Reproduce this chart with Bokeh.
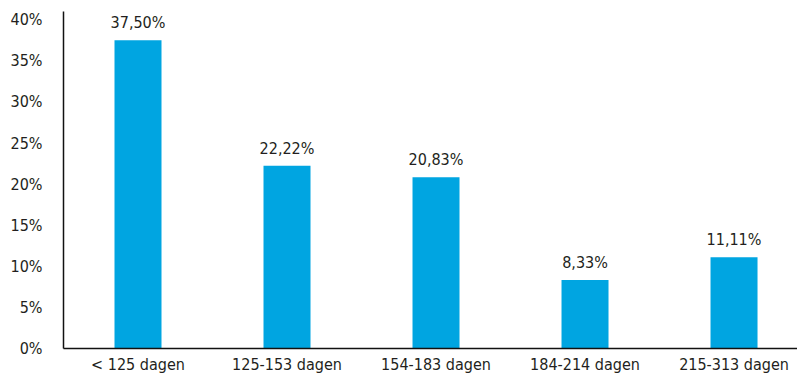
from bokeh.plotting import figure
from bokeh.models import Range1d, ColumnDataSource, FixedTicker, LabelSet
from bokeh.core.properties import value
from bokeh.embed import file_html
from bokeh.resources import INLINE

# Share of cases per duration bucket (percent)
categories = ["< 125 dagen", "125-153 dagen", "154-183 dagen", "184-214 dagen", "215-313 dagen"]
values = [37.50, 22.22, 20.83, 8.33, 11.11]
value_labels = ["37,50%", "22,22%", "20,83%", "8,33%", "11,11%"]
y_ticks = [0, 5, 10, 15, 20, 25, 30, 35, 40]

FONT = "DejaVu Sans Condensed"
BLUE = "#00A5E1"
TEXT = "#231F20"

xs = [i + 0.5 for i in range(len(categories))]
src = ColumnDataSource(dict(x=xs, top=values, lab=value_labels))

p = figure(width=797, height=379, output_backend="svg", toolbar_location=None,
           x_range=Range1d(0, 4.926), y_range=Range1d(0, 41.0))
p.min_border_left = 63
p.min_border_right = 0
p.min_border_top = 11
p.min_border_bottom = 31
p.outline_line_color = None
p.grid.visible = False
p.background_fill_color = "white"
p.border_fill_color = "white"

p.vbar(x="x", top="top", width=47 / 149, bottom=0, source=src,
       fill_color=BLUE, line_color=None)

labels = LabelSet(x="x", y="top", text="lab", source=src, text_align="center",
                  text_baseline="bottom", y_offset=8, text_font=value(FONT),
                  text_font_size=value("16px"), text_color=TEXT)
p.add_layout(labels)

# x axis: category names under each bar
p.xaxis.ticker = FixedTicker(ticks=xs)
p.xaxis.major_label_overrides = {x: c for x, c in zip(xs, categories)}
p.xaxis.major_tick_line_color = None
p.xaxis.major_tick_out = 0
p.xaxis.major_tick_in = 0
p.xaxis.minor_tick_line_color = None
p.xaxis.axis_line_color = "#111111"
p.xaxis.axis_line_width = 1.5
p.xaxis.major_label_text_font = FONT
p.xaxis.major_label_text_font_size = "16px"
p.xaxis.major_label_text_color = TEXT
p.xaxis.major_label_standoff = 6

# y axis: percentage scale
p.yaxis.ticker = FixedTicker(ticks=y_ticks)
p.yaxis.major_label_overrides = {t: f"{t}%" for t in y_ticks}
p.yaxis.major_tick_line_color = None
p.yaxis.major_tick_out = 0
p.yaxis.major_tick_in = 0
p.yaxis.minor_tick_line_color = None
p.yaxis.axis_line_color = "#111111"
p.yaxis.axis_line_width = 1.5
p.yaxis.major_label_text_font = FONT
p.yaxis.major_label_text_font_size = "16px"
p.yaxis.major_label_text_color = TEXT
p.yaxis.major_label_standoff = 21

open("out.html", "w").write(file_html(p, INLINE))
